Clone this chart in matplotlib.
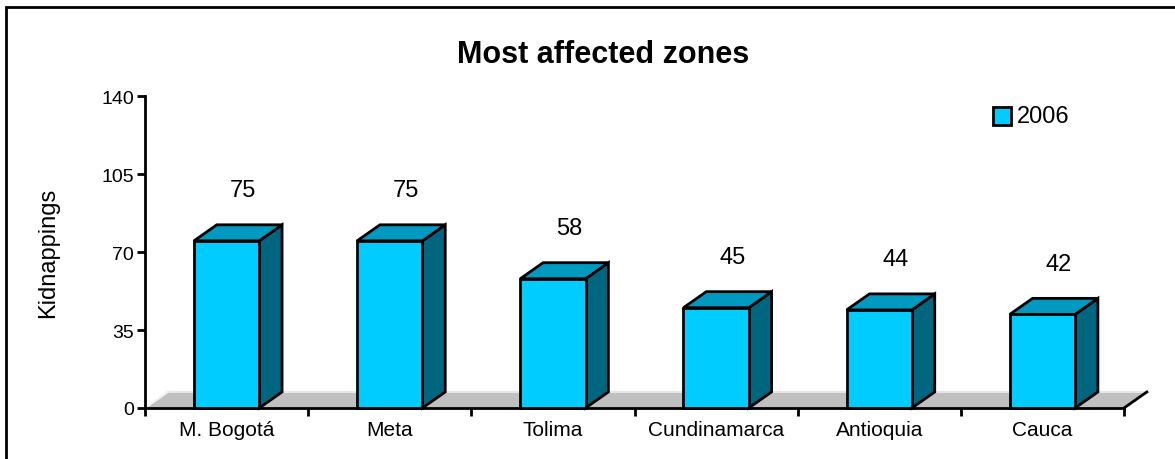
import matplotlib
matplotlib.use('Agg')
import matplotlib.pyplot as plt
from matplotlib.patches import Polygon, Rectangle

plt.rcParams['font.family'] = ['Liberation Sans', 'DejaVu Sans']

zones = ['M. Bogotá', 'Meta', 'Tolima', 'Cundinamarca', 'Antioquia', 'Cauca']
kidnappings = [75, 75, 58, 45, 44, 42]
yticks = [0, 35, 70, 105, 140]
series_name = '2006'

front_col = '#00CCFF'
top_col = '#0099C0'
side_col = '#006680'
floor_col = '#C0C0C0'

# depth of the fake 3D effect, in data units
DX = 0.14
DY = 7.2
BAR_W = 0.40

fig = plt.figure(figsize=(11.75, 4.6), dpi=100)
ax = fig.add_axes([145/1175, 51/460, 979/1175, 312/460])

n = len(zones)
ax.set_xlim(-0.5, n - 0.5)
ax.set_ylim(0, 140)

# floor under the bars
floor = Polygon([(-0.5, 0), (n - 0.5, 0), (n - 0.5 + DX, DY), (-0.5 + DX, DY)],
                closed=True, facecolor=floor_col, edgecolor='none',
                clip_on=False, zorder=1)
ax.add_patch(floor)
ax.plot([-0.5 + DX, n - 0.5 + DX], [DY, DY], color='#E6E6E6', lw=1.5,
        clip_on=False, zorder=1.5)
ax.plot([-0.5, -0.5 + DX], [0, DY], color='#F2F2F2', lw=1.5,
        clip_on=False, zorder=1.5)
ax.plot([n - 0.5, n - 0.5 + DX], [0, DY], color='black', lw=2,
        clip_on=False, zorder=1.5)

for i, v in enumerate(kidnappings):
    x0 = i - BAR_W / 2
    x1 = i + BAR_W / 2
    front = Polygon([(x0, 0), (x1, 0), (x1, v), (x0, v)], closed=True,
                    facecolor=front_col, edgecolor='black', lw=2,
                    joinstyle='miter', clip_on=False, zorder=3)
    top = Polygon([(x0, v), (x1, v), (x1 + DX, v + DY), (x0 + DX, v + DY)],
                  closed=True, facecolor=top_col, edgecolor='black', lw=2,
                  joinstyle='miter', clip_on=False, zorder=3)
    side = Polygon([(x1, 0), (x1 + DX, DY), (x1 + DX, v + DY), (x1, v)],
                   closed=True, facecolor=side_col, edgecolor='black', lw=2,
                   joinstyle='miter', clip_on=False, zorder=3)
    for p in (side, top, front):
        ax.add_patch(p)
    ax.text(i + 0.1, v + DY + 15.5, str(v), ha='center', va='center',
            fontsize=17, zorder=4)

ax.spines['top'].set_visible(False)
ax.spines['right'].set_visible(False)
for s in ('left', 'bottom'):
    ax.spines[s].set_linewidth(2)
    ax.spines[s].set_zorder(2)

ax.set_yticks(yticks)
ax.set_yticklabels([str(t) for t in yticks])
ax.tick_params(axis='y', direction='out', length=6, width=2, labelsize=14, pad=2)

ax.set_xticks(range(n))
ax.set_xticklabels(zones)
ax.set_xticks([k - 0.5 for k in range(n + 1)], minor=True)
ax.tick_params(axis='x', which='major', length=0, labelsize=15, pad=9)
ax.tick_params(axis='x', which='minor', direction='out', length=6, width=2)

ax.set_ylabel('Kidnappings', fontsize=17)
ax.yaxis.set_label_coords(-0.088, 0.5)

fig.text(603/1175, 1 - 55/460, 'Most affected zones', ha='center', va='center',
         fontsize=22, fontweight='bold')

# legend
fig.patches.append(Rectangle((993/1175, 1 - 126/460), 18/1175, 18/460,
                             transform=fig.transFigure, facecolor=front_col,
                             edgecolor='black', lw=2))
fig.text(1017/1175, 1 - 117/460, series_name, ha='left', va='center', fontsize=17)

# outer frame
fig.patches.append(Rectangle((6/1175, -0.1), 1.1, 1.1 - 8/460,
                             transform=fig.transFigure, facecolor='none',
                             edgecolor='black', lw=2))

fig.savefig('out.png', dpi=100)
